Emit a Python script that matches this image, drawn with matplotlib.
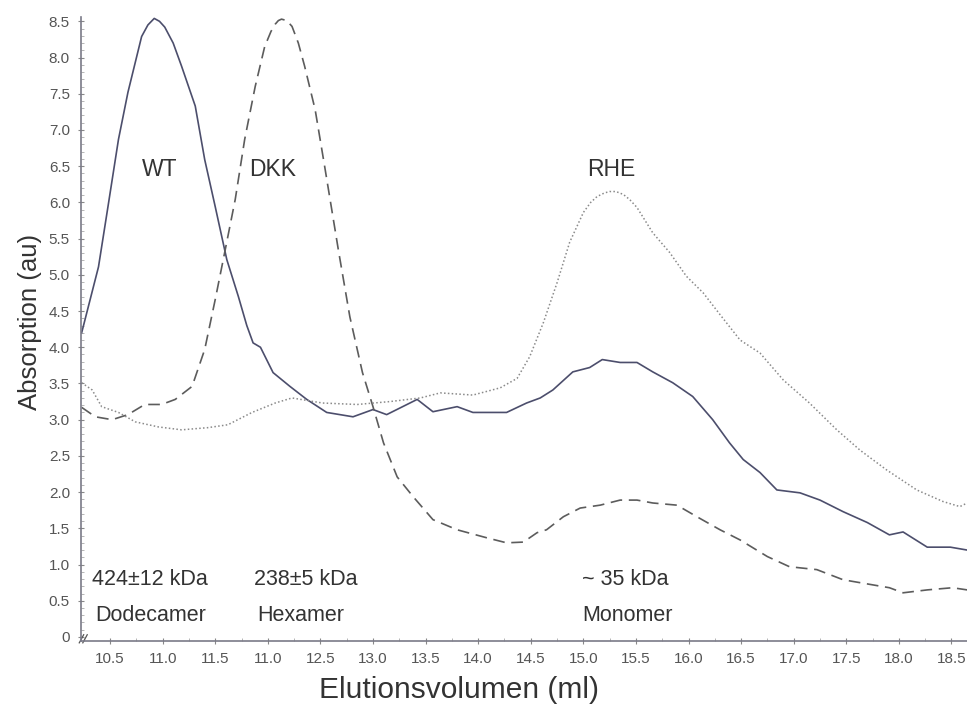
import matplotlib.pyplot as plt
from matplotlib.ticker import MultipleLocator, FixedLocator

plt.rcParams['font.family'] = ['Liberation Sans', 'DejaVu Sans']

# WT (solid)
wt_x = [10.23, 10.39, 10.48, 10.58, 10.67, 10.80, 10.86, 10.92, 10.97, 11.02,
        11.10, 11.18, 11.31, 11.40, 11.50, 11.61, 11.72, 11.80, 11.86, 11.93,
        12.05, 12.21, 12.37, 12.56, 12.81, 13.00, 13.13, 13.42, 13.57, 13.80,
        13.95, 14.27, 14.46, 14.59, 14.71, 14.90, 15.06, 15.18, 15.35, 15.51,
        15.66, 15.85, 16.04, 16.23, 16.39, 16.52, 16.68, 16.84, 17.06, 17.25,
        17.47, 17.70, 17.91, 18.04, 18.27, 18.49, 18.65]
wt_y = [4.20, 5.11, 5.94, 6.87, 7.52, 8.29, 8.45, 8.54, 8.50, 8.42,
        8.20, 7.88, 7.33, 6.59, 5.94, 5.21, 4.70, 4.30, 4.06, 4.00,
        3.65, 3.46, 3.28, 3.10, 3.04, 3.14, 3.07, 3.28, 3.11, 3.18,
        3.10, 3.10, 3.23, 3.30, 3.41, 3.66, 3.72, 3.83, 3.79, 3.79,
        3.66, 3.51, 3.32, 3.00, 2.68, 2.45, 2.27, 2.03, 1.99, 1.89,
        1.73, 1.58, 1.41, 1.45, 1.24, 1.24, 1.20]

# DKK (dashed)
dkk_x = [10.23, 10.36, 10.52, 10.67, 10.83, 10.99, 11.12, 11.28, 11.40, 11.50,
         11.59, 11.69, 11.78, 11.88, 11.97, 12.03, 12.07, 12.10, 12.13, 12.18,
         12.23, 12.29, 12.35, 12.45, 12.54, 12.67, 12.78, 12.90, 13.00, 13.10,
         13.23, 13.38, 13.57, 13.80, 14.08, 14.27, 14.43, 14.56, 14.65, 14.81,
         14.97, 15.16, 15.35, 15.51, 15.66, 15.89, 16.08, 16.30, 16.49, 16.75,
         16.96, 17.22, 17.47, 17.75, 17.91, 18.04, 18.27, 18.51, 18.65]
dkk_y = [3.17, 3.04, 3.00, 3.07, 3.21, 3.21, 3.28, 3.46, 3.97, 4.66,
         5.31, 6.04, 6.87, 7.60, 8.15, 8.36, 8.46, 8.51, 8.53, 8.51,
         8.43, 8.20, 7.88, 7.28, 6.50, 5.35, 4.42, 3.65, 3.18, 2.68,
         2.21, 1.94, 1.62, 1.48, 1.37, 1.30, 1.31, 1.44, 1.48, 1.66,
         1.78, 1.82, 1.89, 1.89, 1.85, 1.82, 1.66, 1.48, 1.34, 1.11,
         0.97, 0.93, 0.79, 0.72, 0.68, 0.61, 0.65, 0.68, 0.65]

# RHE (dotted)
rhe_x = [10.23, 10.33, 10.42, 10.58, 10.74, 10.96, 11.18, 11.43, 11.62, 11.85,
         12.07, 12.23, 12.52, 12.85, 13.16, 13.45, 13.64, 13.95, 14.21, 14.37,
         14.49, 14.62, 14.75, 14.87, 15.00, 15.07, 15.13, 15.20, 15.25, 15.31,
         15.38, 15.44, 15.51, 15.66, 15.82, 15.98, 16.14, 16.30, 16.49, 16.68,
         16.90, 17.15, 17.41, 17.63, 17.88, 18.17, 18.42, 18.58, 18.65]
rhe_y = [3.51, 3.41, 3.18, 3.10, 2.97, 2.90, 2.86, 2.89, 2.93, 3.10,
         3.23, 3.30, 3.23, 3.21, 3.25, 3.30, 3.37, 3.34, 3.44, 3.57,
         3.87, 4.34, 4.89, 5.45, 5.86, 6.00, 6.08, 6.13, 6.15, 6.15,
         6.11, 6.04, 5.93, 5.58, 5.31, 4.98, 4.75, 4.45, 4.10, 3.92,
         3.55, 3.23, 2.86, 2.58, 2.31, 2.03, 1.87, 1.80, 1.85]

x_ticks = [10.5, 11.0, 11.5, 12.0, 12.5, 13.0, 13.5, 14.0, 14.5, 15.0,
           15.5, 16.0, 16.5, 17.0, 17.5, 18.0, 18.5]
x_tick_labels = ['10.5', '11.0', '11.5', '11.0', '12.5', '13.0', '13.5', '14.0',
                 '14.5', '15.0', '15.5', '16.0', '16.5', '17.0', '17.5', '18.0', '18.5']
y_ticks = [0, 0.5, 1.0, 1.5, 2.0, 2.5, 3.0, 3.5, 4.0, 4.5, 5.0, 5.5, 6.0,
           6.5, 7.0, 7.5, 8.0, 8.5]
y_tick_labels = ['0'] + ['%.1f' % v for v in y_ticks[1:]]

fig = plt.figure(figsize=(9.67, 7.07), dpi=100)
ax = fig.add_axes([0.0838, 0.0934, 0.916, 0.8826])

ax.plot(wt_x, wt_y, color='#4c4e6c', lw=1.2)
ax.plot(dkk_x, dkk_y, color='#5c5c5c', lw=1.2, dashes=(7, 4))
ax.plot(rhe_x, rhe_y, color='#8a8a8a', lw=1.1, dashes=(1, 1.5))

ax.set_xlim(10.224, 18.646)
ax.set_ylim(-0.055, 8.56)

for s in ['top', 'right']:
    ax.spines[s].set_visible(False)
for s in ['left', 'bottom']:
    ax.spines[s].set_color('#7a7a88')
    ax.spines[s].set_linewidth(1.2)

ax.xaxis.set_major_locator(FixedLocator(x_ticks))
ax.set_xticklabels(x_tick_labels)
ax.xaxis.set_minor_locator(MultipleLocator(0.25))
ax.yaxis.set_major_locator(FixedLocator(y_ticks))
ax.set_yticklabels(y_tick_labels)
ax.yaxis.set_minor_locator(MultipleLocator(0.1))
ax.tick_params(axis='both', which='major', direction='inout', length=4,
               color='#888888', labelsize=11, labelcolor='#555555', pad=6)
ax.tick_params(axis='both', which='minor', direction='in', length=2,
               color='#aaaaaa')

ax.set_xlabel('Elutionsvolumen (ml)', fontsize=21.5, color='#333333', va='center')
ax.xaxis.set_label_coords(0.4266, -0.0785)
ax.set_ylabel('Absorption (au)', fontsize=18.5, color='#333333', va='center')
ax.yaxis.set_label_coords(-0.0576, 0.511)

# peak labels
ax.text(10.975, 6.45, 'WT', fontsize=16.5, color='#333333', ha='center', va='center')
ax.text(12.05, 6.45, 'DKK', fontsize=16.5, color='#333333', ha='center', va='center')
ax.text(15.27, 6.45, 'RHE', fontsize=16.5, color='#333333', ha='center', va='center')

# molecular weights
ax.text(10.33, 0.80, '424\u00b112 kDa', fontsize=15.5, color='#333333', va='center')
ax.text(10.36, 0.29, 'Dodecamer', fontsize=15.5, color='#333333', va='center')
ax.text(11.87, 0.80, '238\u00b15 kDa', fontsize=15.5, color='#333333', va='center')
ax.text(11.90, 0.29, 'Hexamer', fontsize=15.5, color='#333333', va='center')
ax.text(14.99, 0.80, '~ 35 kDa', fontsize=15.5, color='#333333', va='center')
ax.text(14.99, 0.29, 'Monomer', fontsize=15.5, color='#333333', va='center')

# axis break mark
for dx in (0.0, 0.004):
    ax.plot([-0.002 + dx, 0.003 + dx], [-0.003, 0.01], transform=ax.transAxes,
            color='#555555', lw=0.9, clip_on=False)

fig.savefig('out.png', dpi=100)
